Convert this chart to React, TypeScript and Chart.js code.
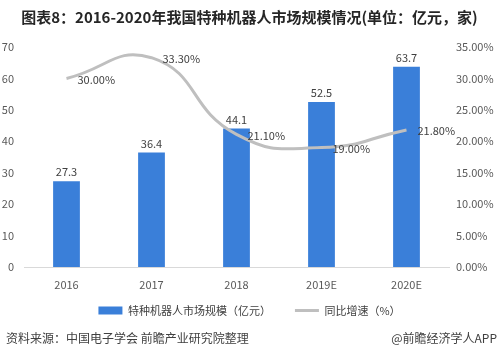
import React, { useEffect, useRef } from 'react';
import { Chart, registerables } from 'chart.js';

Chart.register(...registerables);

const categories = ['2016', '2017', '2018', '2019E', '2020E'];
const marketSize = [27.3, 36.4, 44.1, 52.5, 63.7];
const growthRate = [30.0, 33.3, 21.1, 19.0, 21.8];
const leftTicks = { min: 0, max: 70, step: 10 };
const rightTicks = { min: 0, max: 35, step: 5 };

const FONT = '"Noto Sans CJK SC", "Noto Sans", sans-serif';
const BAR_COLOR = '#3a7fd9';
const LINE_COLOR = '#bfbfbf';
const TEXT = '#595959';

const labelPlugin = {
  id: 'valueLabels',
  afterLayout(chart: any) {
    const lg = chart.legend;
    if (lg) {
      lg.top -= 14;
      lg.bottom -= 14;
    }
  },
  afterDatasetsDraw(chart: any) {
    const ctx = chart.ctx;
    ctx.save();
    ctx.font = `11px ${FONT}`;
    ctx.fillStyle = '#404040';
    const barMeta = chart.getDatasetMeta(0);
    barMeta.data.forEach((el: any, i: number) => {
      ctx.textAlign = 'center';
      ctx.textBaseline = 'middle';
      ctx.fillText(marketSize[i].toFixed(1), el.x, el.y - 9);
    });
    const lineMeta = chart.getDatasetMeta(1);
    lineMeta.data.forEach((el: any, i: number) => {
      ctx.textAlign = 'left';
      ctx.textBaseline = 'middle';
      ctx.fillText(growthRate[i].toFixed(2) + '%', el.x + 11, el.y + 1);
    });
    ctx.restore();
  },
};

export default function App() {
  const ref = useRef<HTMLCanvasElement>(null);

  useEffect(() => {
    document.body.style.margin = '0';
    const canvas = ref.current;
    if (!canvas) return;
    const chart = new Chart(canvas, {
      type: 'bar',
      data: {
        labels: categories,
        datasets: [
          {
            type: 'bar',
            label: '特种机器人市场规模（亿元）',
            data: marketSize,
            backgroundColor: BAR_COLOR,
            barPercentage: 0.63,
            categoryPercentage: 0.5,
            yAxisID: 'y',
            order: 1,
          } as any,
          {
            type: 'line',
            label: '同比增速（%）',
            data: growthRate,
            borderColor: LINE_COLOR,
            backgroundColor: LINE_COLOR,
            borderWidth: 3,
            pointRadius: 0,
            tension: 0.5,
            yAxisID: 'y1',
            order: 0,
          } as any,
        ],
      },
      options: {
        animation: false,
        responsive: false,
        maintainAspectRatio: false,
        layout: { padding: { top: 47, bottom: 16, left: 0, right: 0 } },
        plugins: {
          tooltip: { enabled: false },
          title: { display: false },
          legend: {
            position: 'bottom',
            labels: {
              usePointStyle: true,
              pointStyleWidth: 24,
              boxHeight: 8,
              padding: 24,
              color: '#404040',
              font: { size: 11, family: FONT },
              sort: (a: any, b: any) => a.datasetIndex - b.datasetIndex,
              generateLabels(chart: any) {
                const items = (Chart as any).defaults.plugins.legend.labels.generateLabels(chart);
                items.forEach((it: any) => {
                  if (it.datasetIndex === 0) {
                    it.pointStyle = 'rect';
                    it.lineWidth = 0;
                    it.fillStyle = BAR_COLOR;
                  } else {
                    it.pointStyle = 'line';
                    it.lineWidth = 3;
                    it.strokeStyle = LINE_COLOR;
                  }
                });
                return items;
              },
            },
          },
        },
        scales: {
          x: {
            grid: { display: false, drawTicks: false },
            border: { display: true, color: '#d9d9d9', width: 1 },
            ticks: { color: TEXT, font: { size: 11, family: FONT }, padding: 11, maxRotation: 0 },
            afterFit: (s: any) => {
              s.height = 28;
            },
          },
          y: {
            position: 'left',
            min: leftTicks.min,
            max: leftTicks.max,
            grid: { display: false, drawTicks: false },
            border: { display: false },
            ticks: { stepSize: leftTicks.step, color: TEXT, font: { size: 11, family: FONT }, padding: 10 },
            afterFit: (s: any) => {
              s.width = 24;
            },
          },
          y1: {
            position: 'right',
            min: rightTicks.min,
            max: rightTicks.max,
            grid: { display: false, drawTicks: false },
            border: { display: false },
            ticks: {
              stepSize: rightTicks.step,
              color: TEXT,
              font: { size: 11, family: FONT },
              padding: 7,
              callback: (v: any) => Number(v).toFixed(2) + '%',
            },
            afterFit: (s: any) => {
              s.width = 50;
            },
          },
        },
      } as any,
      plugins: [labelPlugin],
    });
    return () => chart.destroy();
  }, []);

  return (
    <div style={{ position: 'relative', width: 499, height: 356, background: '#fff', fontFamily: FONT }}>
      <canvas ref={ref} width={499} height={356} style={{ position: 'absolute', left: 0, top: 0 }} />
      <div
        style={{
          position: 'absolute',
          left: 0,
          top: 7,
          width: 499,
          textAlign: 'center',
          fontSize: 15,
          lineHeight: '20px',
          fontWeight: 'bold',
          color: '#262626',
          whiteSpace: 'nowrap',
        }}
      >
        图表8：2016-2020年我国特种机器人市场规模情况(单位：亿元，家)
      </div>
      <div
        style={{
          position: 'absolute',
          left: 6,
          top: 330,
          fontSize: 12,
          lineHeight: '16px',
          color: '#404040',
          whiteSpace: 'nowrap',
        }}
      >
        资料来源：中国电子学会 前瞻产业研究院整理
      </div>
      <div
        style={{
          position: 'absolute',
          right: 2,
          top: 330,
          fontSize: 12,
          lineHeight: '16px',
          color: '#404040',
          whiteSpace: 'nowrap',
        }}
      >
        @前瞻经济学人APP
      </div>
    </div>
  );
}
